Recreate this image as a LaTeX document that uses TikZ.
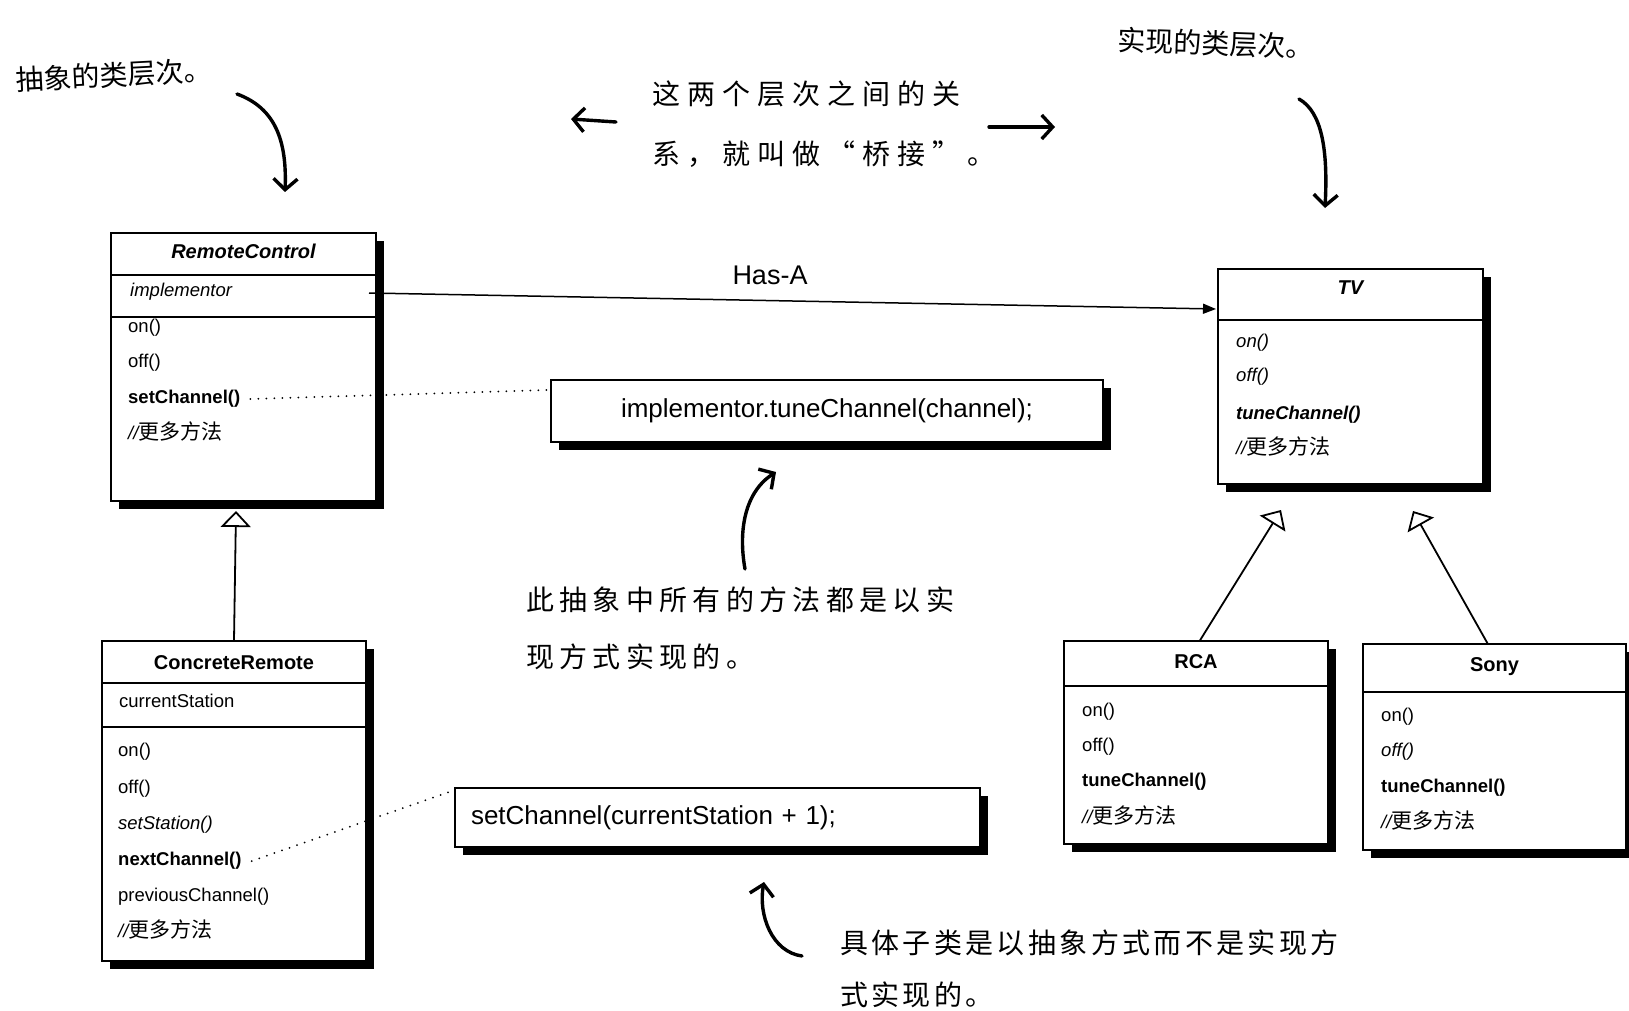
\documentclass[tikz,border=0pt]{standalone}
\usepackage{fontspec}
\setmainfont{Liberation Sans}
\newfontfamily\cjk{Noto Sans CJK SC}
\usetikzlibrary{arrows.meta,shadows}

\newcommand{\moremethods}{{\itshape //}{\cjk\fontsize{21}{24}\selectfont 更多方法}}

\begin{document}
\begin{tikzpicture}[
  x=1pt, y=-1pt,
  class box/.style={draw, line width=1.3pt, fill=white, inner sep=0pt,
    drop shadow={shadow xshift=8pt, shadow yshift=-8pt, fill=black, opacity=1}},
  code box/.style={class box, inner xsep=16pt, inner ysep=0pt,
    font=\fontsize{26}{30}\selectfont},
  title/.style={font=\fontsize{20}{24}\selectfont\bfseries, inner sep=0pt},
  member/.style={anchor=west, font=\fontsize{18.5}{22}\selectfont, inner sep=0pt,
    text height=14pt, text depth=4.5pt},
  hand/.style={anchor=west, align=left, inner sep=0pt},
  hand arrow/.style={line width=3.4pt, line cap=round,
    -{Straight Barb[length=11pt,width=24pt]}},
  has a/.style={line width=1.5pt, -{Triangle[length=13pt,width=10pt]}},
  inherits/.style={line width=1.8pt, -{Triangle[open,length=16pt,width=30pt,fill=white]}},
  link/.style={line width=2pt, dash pattern=on 0pt off 8pt, line cap=round}
]
  \useasboundingbox (0,0) rectangle (1629,1011);
  \fill[white] (0,0) rectangle (1629,1011);

  % Abstraction side
  \node[class box, minimum width=265pt, minimum height=268pt] (rc) at (243.5,367) {};
  \draw[line width=1.3pt] (rc.west |- 0,275) -- (rc.east |- 0,275);
  \draw[line width=1.3pt] (rc.west |- 0,317) -- (rc.east |- 0,317);
  \node[title, font=\fontsize{20}{24}\selectfont\bfseries\itshape] (rc-title) at (243.5,251) {RemoteControl};
  \node[member, font=\fontsize{18.5}{22}\selectfont\itshape] (rc-impl) at (130,292) {implementor};
  \node[member] (rc-on) at (128,328) {on()};
  \node[member] (rc-off) at (128,363) {off()};
  \node[member, font=\fontsize{18.5}{22}\selectfont\bfseries] (rc-set) at (128,399) {setChannel()};
  \node[member] (rc-more) at (128,435) {\moremethods};

  \node[class box, minimum width=264pt, minimum height=320pt] (cr) at (234,801) {};
  \draw[line width=1.3pt] (cr.west |- 0,683) -- (cr.east |- 0,683);
  \draw[line width=1.3pt] (cr.west |- 0,727) -- (cr.east |- 0,727);
  \node[title] (cr-title) at (234,663) {ConcreteRemote};
  \node[member] (cr-station) at (119,703) {currentStation};
  \node[member] (cr-on) at (118,752) {on()};
  \node[member] (cr-off) at (118,789) {off()};
  \node[member, font=\fontsize{18.5}{22}\selectfont\itshape] (cr-setst) at (118,825) {setStation()};
  \node[member, font=\fontsize{18.5}{22}\selectfont\bfseries] (cr-next) at (118,861) {nextChannel()};
  \node[member] (cr-prev) at (118,897) {previousChannel()};
  \node[member] (cr-more) at (118,933) {\moremethods};

  % Implementation side
  \node[class box, minimum width=265pt, minimum height=215pt] (tv) at (1350.5,376.5) {};
  \draw[line width=1.3pt] (tv.west |- 0,320) -- (tv.east |- 0,320);
  \node[title, font=\fontsize{20}{24}\selectfont\bfseries\itshape] (tv-title) at (1350.5,288) {TV};
  \node[member, font=\fontsize{18.5}{22}\selectfont\itshape] (tv-on) at (1236,343) {on()};
  \node[member, font=\fontsize{18.5}{22}\selectfont\itshape] (tv-off) at (1236,377) {off()};
  \node[member, font=\fontsize{18.5}{22}\selectfont\bfseries\itshape] (tv-tune) at (1236,415) {tuneChannel()};
  \node[member] (tv-more) at (1236,450) {\moremethods};

  \node[class box, minimum width=264pt, minimum height=203pt] (rca) at (1196,742.5) {};
  \draw[line width=1.3pt] (rca.west |- 0,686) -- (rca.east |- 0,686);
  \node[title] (rca-title) at (1196,662) {RCA};
  \node[member] (rca-on) at (1082,712) {on()};
  \node[member] (rca-off) at (1082,747) {off()};
  \node[member, font=\fontsize{18.5}{22}\selectfont\bfseries] (rca-tune) at (1082,782) {tuneChannel()};
  \node[member] (rca-more) at (1082,819) {\moremethods};

  \node[class box, minimum width=263pt, minimum height=206pt] (sony) at (1494.5,747) {};
  \draw[line width=1.3pt] (sony.west |- 0,692) -- (sony.east |- 0,692);
  \node[title] (sony-title) at (1494.5,667) {Sony};
  \node[member] (sony-on) at (1381,717) {on()};
  \node[member, font=\fontsize{18.5}{22}\selectfont\itshape] (sony-off) at (1381,752) {off()};
  \node[member, font=\fontsize{18.5}{22}\selectfont\bfseries] (sony-tune) at (1381,788) {tuneChannel()};
  \node[member] (sony-more) at (1381,824) {\moremethods};

  % Code notes
  \node[code box, minimum width=552pt, minimum height=62pt] (impl-call) at (827,411) {implementor.tuneChannel(channel);};
  \node[code box, text width=493pt, align=left, minimum height=59pt] (next-call) at (717.5,817.5) {setChannel(currentStation + 1);};

  % Has-A and inheritance
  \coordinate (rc-link) at (369,293);
  \coordinate (tv-link) at (1216,309);
  \draw[has a] (rc-link) -- (tv-link);
  \node[font=\fontsize{27}{30}\selectfont, inner sep=0pt] (has-a) at (770,275) {Has-A};

  \coordinate (rc-base) at (236,511);
  \coordinate (tv-base-l) at (1281,510);
  \coordinate (tv-base-r) at (1413,511);
  \draw[inherits] (cr.north) -- (rc-base);
  \draw[inherits] ([xshift=4pt]rca.north) -- (tv-base-l);
  \draw[inherits] ([xshift=-7pt]sony.north) -- (tv-base-r);

  % Dotted links to code
  \coordinate (impl-end) at (548,390);
  \coordinate (next-end) at (449,792);
  \draw[link] ([xshift=10pt]rc-set.east) -- (impl-end);
  \draw[link] ([xshift=10pt]cr-next.east) -- (next-end);

  % Handwritten notes
  \node[hand, rotate=3, font=\cjk\fontsize{28}{30}\selectfont] (note-abs) at (16,80) {抽象的类层次。};
  \node[hand, rotate=-2, font=\cjk\fontsize{28}{30}\selectfont] (note-impl) at (1118,40) {实现的类层次。};
  \node[hand, font=\cjk\fontsize{28}{60}\selectfont\addfontfeatures{LetterSpace=25}] (note-bridge) at (652,124)
    {这两个层次之间的关\\系，就叫做“桥接”。};
  \node[hand, font=\cjk\fontsize{28}{57}\selectfont\addfontfeatures{LetterSpace=19}] (note-all) at (526,628)
    {此抽象中所有的方法都是以实\\现方式实现的。};
  \node[hand, font=\cjk\fontsize{28}{52}\selectfont\addfontfeatures{LetterSpace=12}] (note-sub) at (840,969)
    {具体子类是以抽象方式而不是实现方\\式实现的。};

  \coordinate (abs-from) at (237,94);
  \coordinate (abs-to) at (285,192);
  \draw[hand arrow] (abs-from) .. controls (275,108) and (287,140) .. (abs-to);
  \coordinate (impl-from) at (1299,99);
  \coordinate (impl-to) at (1325,208);
  \draw[hand arrow] (impl-from) .. controls (1322,112) and (1328,150) .. (impl-to);
  \coordinate (bridge-l-from) at (616,122);
  \coordinate (bridge-l-to) at (571,119);
  \draw[hand arrow] (bridge-l-from) -- (bridge-l-to);
  \coordinate (bridge-r-from) at (989,127);
  \coordinate (bridge-r-to) at (1055,127);
  \draw[hand arrow] (bridge-r-from) -- (bridge-r-to);
  \coordinate (all-from) at (745,569);
  \coordinate (all-to) at (776,472);
  \draw[hand arrow] (all-from) .. controls (738,530) and (745,492) .. (all-to);
  \coordinate (sub-from) at (802,956);
  \coordinate (sub-to) at (764,882);
  \draw[hand arrow] (sub-from) .. controls (772,952) and (758,915) .. (sub-to);
\end{tikzpicture}
\end{document}
